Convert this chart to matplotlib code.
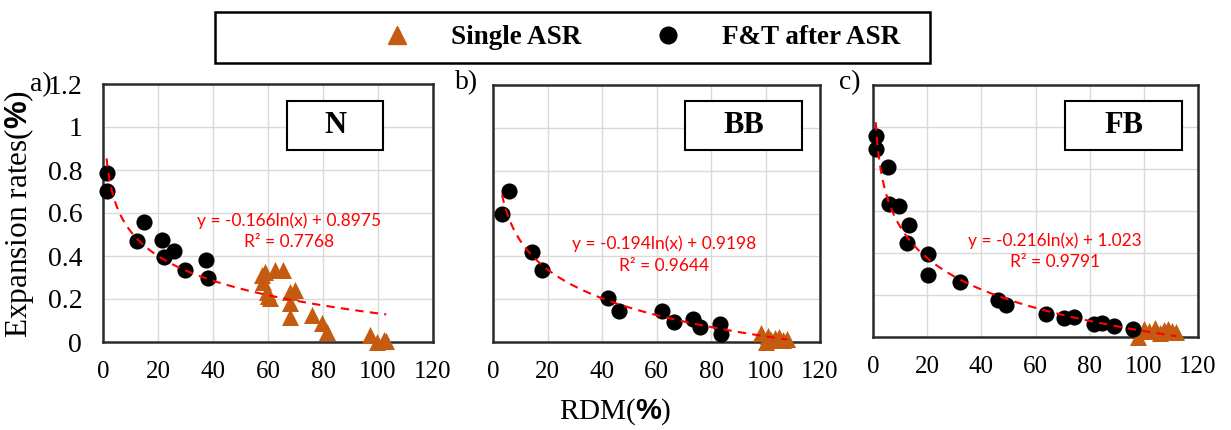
import numpy as np
import matplotlib
matplotlib.use("Agg")
import matplotlib.pyplot as plt
from matplotlib.lines import Line2D
from matplotlib.patches import Rectangle

plt.rcParams["font.family"] = ["Liberation Serif", "DejaVu Serif"]
plt.rcParams["mathtext.fontset"] = "custom"
plt.rcParams["mathtext.rm"] = "Liberation Serif"
plt.rcParams["mathtext.bf"] = "Liberation Sans:bold"

# ---- data -------------------------------------------------------------
# Panel a) N
n_ft_x = [1.3, 1.3, 12.3, 15.0, 21.3, 22.3, 25.8, 29.9, 37.5, 38.3]
n_ft_y = [0.785, 0.704, 0.47, 0.56, 0.474, 0.397, 0.425, 0.335, 0.381, 0.296]
n_asr_x = [57.7, 58.9, 58.0, 62.5, 65.6, 59.5, 60.0, 60.7, 68.0, 69.8,
           68.0, 68.1, 76.1, 79.5, 81.3, 97.1, 99.5, 102.0, 103.0]
n_asr_y = [0.312, 0.327, 0.28, 0.335, 0.335, 0.234, 0.215, 0.203, 0.234, 0.242,
           0.18, 0.118, 0.126, 0.087, 0.048, 0.033, 0.0, 0.01, 0.005]
n_fit = (-0.166, 0.8975, 0.7768)

# Panel b) BB
bb_ft_x = [3.3, 6.0, 14.3, 18.1, 42.3, 46.1, 62.1, 66.4, 73.5, 76.0, 83.3, 83.7]
bb_ft_y = [0.598, 0.706, 0.422, 0.336, 0.204, 0.146, 0.146, 0.092, 0.107, 0.069, 0.084, 0.037]
bb_asr_x = [98.5, 100.0, 101.0, 102.0, 103.5, 105.0, 106.5, 108.0]
bb_asr_y = [0.04, 0.0, 0.03, 0.01, 0.02, 0.025, 0.01, 0.015]
bb_fit = (-0.194, 0.9198, 0.9644)

# Panel c) FB
fb_ft_x = [1.0, 1.1, 5.4, 5.9, 9.6, 13.3, 12.4, 20.2, 20.2, 32.1,
           46.3, 49.0, 63.8, 70.7, 74.3, 81.7, 84.4, 89.0, 96.1]
fb_ft_y = [0.957, 0.894, 0.811, 0.633, 0.624, 0.533, 0.446, 0.394, 0.294, 0.262,
           0.176, 0.152, 0.108, 0.089, 0.094, 0.060, 0.065, 0.052, 0.037]
fb_asr_x = [98.0, 100.0, 102.0, 104.0, 106.0, 107.5, 109.0, 110.5, 112.0]
fb_asr_y = [0.0, 0.04, 0.03, 0.045, 0.02, 0.035, 0.04, 0.03, 0.025]
fb_fit = (-0.216, 1.023, 0.9791)

panel_names = ["N", "BB", "FB"]
panel_tags = ["a)", "b)", "c)"]
x_ticks = [0, 20, 40, 60, 80, 100, 120]
y_ticks = [0, 0.2, 0.4, 0.6, 0.8, 1.0, 1.2]

ORANGE = "#C55A11"

W, H = 1231, 430
fig = plt.figure(figsize=(W / 100, H / 100), dpi=100)


def fig_rect(l, t, r, b):
    return [l / W, 1 - b / H, (r - l) / W, (b - t) / H]


axes_px = [(103, 84, 433, 342), (493, 85, 820, 342), (873, 85, 1198, 337)]
name_boxes = [(0.558, 0.744, 0.848, 0.934), (0.587, 0.747, 0.945, 0.938),
              (0.591, 0.742, 0.951, 0.937)]
eq_pos = [(67.6, 0.565, 0.465), (62.8, 0.46, 0.355), (67.2, 0.46, 0.355)]

series = [
    (n_ft_x, n_ft_y, n_asr_x, n_asr_y, n_fit),
    (bb_ft_x, bb_ft_y, bb_asr_x, bb_asr_y, bb_fit),
    (fb_ft_x, fb_ft_y, fb_asr_x, fb_asr_y, fb_fit),
]

for i, (fx, fy, ax_, ay_, fit) in enumerate(series):
    ax = fig.add_axes(fig_rect(*axes_px[i]))
    ax.set_xlim(0, 120)
    ax.set_ylim(0, 1.2)
    ax.set_xticks(x_ticks)
    ax.set_yticks(y_ticks)
    ax.set_xticklabels([f"{v:g}" for v in x_ticks], fontsize=18)
    if i == 0:
        ax.set_yticklabels([f"{v:g}" for v in y_ticks], fontsize=20)
    else:
        ax.set_yticklabels([])
    ax.tick_params(length=0)
    ax.tick_params(axis="x", pad=14)
    ax.tick_params(axis="y", pad=15)
    ax.grid(True, color="#D9D9D9", linewidth=1.0)
    ax.set_axisbelow(True)
    for sp in ax.spines.values():
        sp.set_color("#2b2b2b")
        sp.set_linewidth(1.8)

    ax.scatter(ax_, ay_, marker="^", s=150, color=ORANGE, linewidths=0, zorder=3,
               clip_on=False)
    ax.scatter(fx, fy, marker="o", s=135, color="black", linewidths=0, zorder=4,
               clip_on=False)

    # logarithmic trendline over the data range
    allx = np.array(list(fx) + list(ax_))
    xs = np.linspace(allx.min(), allx.max(), 300)
    a, b, r2 = fit
    ax.plot(xs, a * np.log(xs) + b, color="#FF0000", linestyle=(0, (4, 3)),
            linewidth=1.5, zorder=5)
    ex, ey1, ey2 = eq_pos[i]
    ax.text(ex, ey1, f"y = {a:g}ln(x) + {b:g}", color="#FF0000", fontsize=12.5,
            family="Lato", ha="center", va="center", zorder=6)
    ax.text(ex, ey2, f"R² = {r2:.4f}", color="#FF0000", fontsize=12.5,
            family="Lato", ha="center", va="center", zorder=6)

    x0, y0, x1, y1 = name_boxes[i]
    ax.add_patch(Rectangle((x0, y0), x1 - x0, y1 - y0, transform=ax.transAxes,
                           facecolor="white", edgecolor="black", linewidth=1.5,
                           zorder=6))
    ax.text((x0 + x1) / 2, (y0 + y1) / 2, panel_names[i], transform=ax.transAxes,
            fontsize=22, fontweight="bold", ha="center", va="center", zorder=7)

# panel tags
for (px, py), tag in zip([(41, 85), (467, 83), (850, 83)], panel_tags):
    fig.text(px / W, 1 - py / H, tag, fontsize=20, ha="center", va="center")

# axis titles
fig.text(615 / W, 1 - 412 / H, r"RDM($\mathbf{\%}$)", fontsize=21,
         ha="center", va="center")
fig.text(19 / W, 1 - 214 / H, r"Expansion rates($\mathbf{\%}$)", fontsize=22.5,
         ha="center", va="center", rotation=90)

# legend with its frame
fig.patches.append(Rectangle((215 / W, 1 - 63 / H), 715 / W, 51 / H,
                             transform=fig.transFigure, facecolor="white",
                             edgecolor="black", linewidth=1.8))
handles = [
    Line2D([], [], marker="^", linestyle="None", color=ORANGE, markersize=13),
    Line2D([], [], marker="o", linestyle="None", color="black", markersize=12),
]
fig.legend(handles, ["Single ASR", "F&T after ASR"], loc="center",
           bbox_to_anchor=(635 / W, 1 - 38 / H), ncol=2, frameon=False,
           prop={"family": "Liberation Serif", "weight": "bold", "size": 19.5},
           handlelength=2.0, handletextpad=1.0, columnspacing=2.2)

fig.savefig("out.png", dpi=100)
